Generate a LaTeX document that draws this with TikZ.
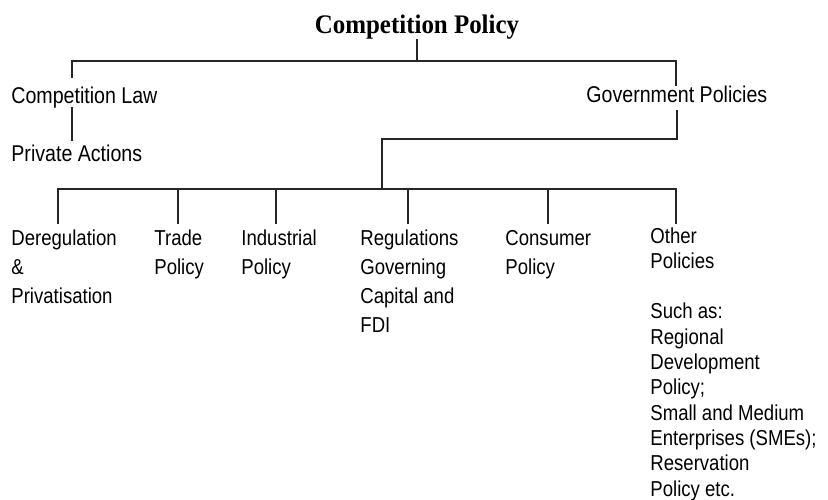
\documentclass[tikz,border=0pt]{standalone}
\usepackage{fontspec}
\setmainfont{Liberation Sans}[FakeStretch=0.86]
\newfontfamily\headfont{Liberation Serif}[FakeStretch=0.93]
% left-aligned stack of lines whose baseline is that of its first line
\newcommand\leftstack[1]{\begin{tabular}[t]{@{}l@{}}#1\end{tabular}}
\begin{document}
\begin{tikzpicture}[x=0.5pt,y=-0.5pt,
  link/.style={draw=black!85,line width=0.6pt},
  head/.style={font=\headfont\bfseries\fontsize{13.4}{16}\selectfont,inner sep=0pt,anchor=base},
  upper/.style={font=\fontsize{11.4}{14}\selectfont,inner sep=0pt,anchor=base west},
  leaf/.style={font=\fontsize{10.8}{14.5}\selectfont,inner sep=0pt,anchor=base west},
  note/.style={leaf,font=\fontsize{10.8}{12.65}\selectfont}]
\useasboundingbox (0,0) rectangle (828,499);

% headings
\node[head]  (cp) at (417,33)  {Competition Policy};
\node[upper] (cl) at (11,103)  {Competition Law};
\node[upper] (pa) at (11,161)  {Private Actions};
\node[upper] (gp) at (586,102) {Government Policies};

% policy leaves
\node[leaf] (dp) at (11,245)  {\leftstack{Deregulation\\\&\\Privatisation}};
\node[leaf] (tp) at (154,245) {\leftstack{Trade\\Policy}};
\node[leaf] (ip) at (241,245) {\leftstack{Industrial\\Policy}};
\node[leaf] (rg) at (360,245) {\leftstack{Regulations\\Governing\\Capital and\\FDI}};
\node[leaf] (cs) at (505,245) {\leftstack{Consumer\\Policy}};
\node[note] (op) at (650,243) {\leftstack{Other\\Policies\\[12.65pt]Such as:\\Regional\\Development\\Policy;\\Small and Medium\\Enterprises (SMEs);\\Reservation\\Policy etc.}};

% bus levels and connector ends
\coordinate (busA) at (0,61);
\coordinate (busB) at (0,139);
\coordinate (busC) at (0,189);
\coordinate (clIn)  at (72,78);
\coordinate (clOut) at (72,107);
\coordinate (paIn)  at (72,141);
\coordinate (gpIn)  at (676,86);
\coordinate (gpOut) at (677,110);
\coordinate (hub)   at (382,189);
\coordinate (dpIn) at (58,224);
\coordinate (tpIn) at (178,224);
\coordinate (ipIn) at (276,224);
\coordinate (rgIn) at (408,224);
\coordinate (csIn) at (548,224);
\coordinate (opIn) at (676,224);

% connectors
\draw[link] (cp.south) -- (cp.south |- busA) -| (clIn);
\draw[link] (cp.south |- busA) -| (gpIn);
\draw[link] (clOut) -- (paIn);
\draw[link] (gpOut) -- (gpOut |- busB) -| (hub);
\draw[link] (dpIn) |- (opIn |- busC) -- (opIn);
\foreach \c in {tpIn,ipIn,rgIn,csIn}
  \draw[link] (\c) -- (\c |- busC);
\end{tikzpicture}
\end{document}
